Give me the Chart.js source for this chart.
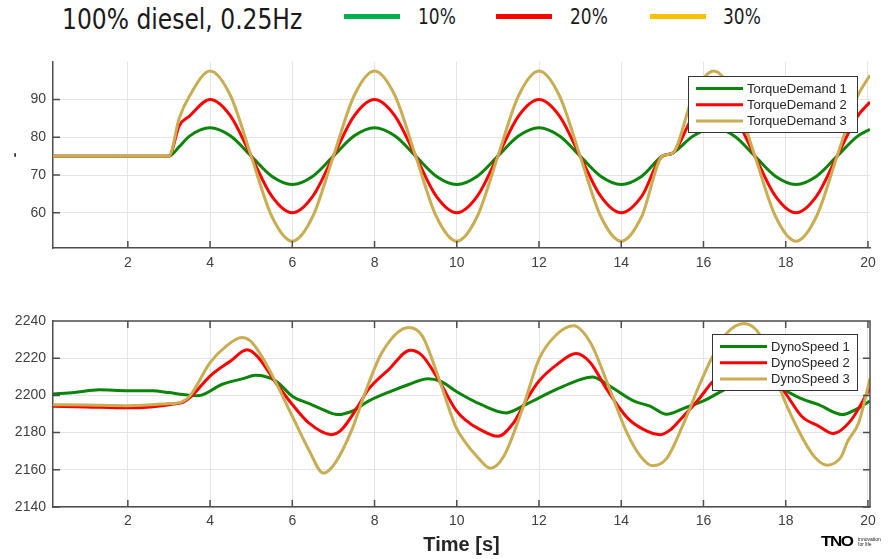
<!DOCTYPE html>
<html>
<head>
<meta charset="utf-8">
<script src="https://cdn.jsdelivr.net/npm/chart.js@4.4.1/dist/chart.umd.min.js"></script>
<style>
  html, body { margin: 0; padding: 0; background: #fff; }
  #page { position: relative; width: 895px; height: 559px; overflow: hidden; }
  canvas { position: absolute; left: 0; }
  #topWrap { position: absolute; left: 0; top: 40px; width: 895px; height: 240px; }
  #botWrap { position: absolute; left: 0; top: 300px; width: 895px; height: 259px; }
  .head { position: absolute; font-family: "Liberation Sans Narrow", "DejaVu Sans Condensed", "Open Sans", sans-serif; color: #1a1a1a; white-space: nowrap; transform-origin: left center; }
  .swatch { position: absolute; height: 5px; width: 56px; }
  .tno { position: absolute; left: 821px; top: 532px; font-family: "Liberation Sans", Arial, sans-serif; font-weight: 900; font-size: 17px; letter-spacing: -1.5px; color: #000; transform: scaleY(0.85); }
  .tagline { position: absolute; left: 858px; top: 537px; font-family: "Liberation Sans", Arial, sans-serif; font-size: 5px; line-height: 5px; color: #222; }
</style>
</head>
<body>
<div id="page">
  <div class="head" style="left:62px; top:3px; font-size:28px; transform:scaleX(0.93);">100% diesel, 0.25Hz</div>
  <div class="swatch" style="left:344px; top:14px; background:#00b050;"></div>
  <div class="head" style="left:418px; top:5px; font-size:21px; transform:scaleX(0.9);">10%</div>
  <div class="swatch" style="left:496px; top:14px; background:#ff0000;"></div>
  <div class="head" style="left:570px; top:5px; font-size:21px; transform:scaleX(0.9);">20%</div>
  <div class="swatch" style="left:650px; top:14px; background:#ffc000;"></div>
  <div class="head" style="left:723px; top:5px; font-size:21px; transform:scaleX(0.9);">30%</div>

  <div id="topWrap"><canvas id="torqueChart" width="895" height="240"></canvas></div>
  <div id="botWrap"><canvas id="speedChart" width="895" height="259"></canvas></div>

  <div class="tno">TNO</div>
  <div class="tagline">innovation<br>for life</div>
</div>

<script>
// ---- data ----
const timeTicks = [2, 4, 6, 8, 10, 12, 14, 16, 18, 20];
const torqueTicks = [60, 70, 80, 90];
const speedTicks = [2140, 2160, 2180, 2200, 2220, 2240];

const torqueTime = [0.18, 1, 2, 3, 3.25, 3.5, 4, 4.5, 5, 5.5, 6, 6.5, 7, 7.5, 8, 8.5, 9, 9.5, 10, 10.5,
  11, 11.5, 12, 12.5, 13, 13.5, 14, 14.5, 15, 15.25, 15.75, 16.25, 16.75, 17.25, 17.75, 18.25, 18.75, 19.25, 19.75, 20.05];
const torqueDemand1 = [75, 75, 75, 75, 77.5, 80.3, 82.5, 80.3, 75, 69.7, 67.5, 69.7, 75, 80.3, 82.5, 80.3, 75, 69.7, 67.5, 69.7,
  75, 80.3, 82.5, 80.3, 75, 69.7, 67.5, 69.7, 75, 75.8, 80.3, 82.5, 80.3, 75, 69.7, 67.5, 69.7, 75, 80.3, 82.1];
const torqueDemand2 = [75, 75, 75, 75, 83, 85.6, 90, 85.6, 75, 64.4, 60, 64.4, 75, 85.6, 90, 85.6, 75, 64.4, 60, 64.4,
  75, 85.6, 90, 85.6, 75, 64.4, 60, 64.4, 75, 75.8, 85.6, 90, 85.6, 75, 64.4, 60, 64.4, 75, 85.6, 89.3];
const torqueDemand3 = [75, 75, 75, 75, 85, 90.9, 97.5, 90.9, 75, 59.1, 52.5, 59.1, 75, 90.9, 97.5, 90.9, 75, 59.1, 52.5, 59.1,
  75, 90.9, 97.5, 90.9, 75, 59.1, 52.5, 59.1, 75, 75.8, 90.9, 97.5, 90.9, 75, 59.1, 52.5, 59.1, 75, 90.9, 96.4];

const dyno1Time = [0.18, 0.7, 1.3, 2.0, 2.6, 3.0, 3.35, 3.7, 4.3, 4.8, 5.1, 5.6, 6.0, 6.4, 6.7, 7.1, 7.5, 7.85, 8.35, 8.85,
  9.3, 9.6, 10.0, 10.6, 11.2, 11.6, 12.0, 12.5, 12.9, 13.3, 13.65, 14.3, 14.7, 15.1, 15.55, 16.0, 16.5, 17.0, 17.35, 18.0,
  18.35, 18.8, 19.37, 19.7, 20.05];
const dynoSpeed1 = [2200.8, 2201.5, 2203, 2202.5, 2202.5, 2201.5, 2200.5, 2199.8, 2206, 2209, 2210.8, 2207.7, 2199.6, 2195.7, 2192.8, 2189.7, 2192, 2196.9, 2201.8, 2206,
  2209, 2207.7, 2202, 2195, 2190.6, 2194.2, 2198.7, 2204, 2207.7, 2209.9, 2206, 2197, 2194.2, 2189.8, 2193.3, 2197, 2203, 2208, 2209.5, 2202.5,
  2198.5, 2195, 2189.7, 2192.4, 2197];

const dyno2Time = [0.18, 1.0, 2.0, 2.55, 3.2, 3.35, 3.55, 4.0, 4.5, 4.9, 5.15, 5.6, 6.0, 6.4, 6.95, 7.2, 7.6, 7.85, 8.35, 8.87,
  9.15, 9.55, 9.97, 10.2, 10.57, 11.0, 11.38, 11.7, 12.0, 12.45, 12.9, 13.25, 13.65, 14.15, 14.55, 14.95, 15.2, 15.4, 15.88, 16.2,
  16.6, 17.0, 17.3, 17.65, 18.0, 18.4, 18.8, 19.15, 19.6, 20.05];
const dynoSpeed2 = [2194.2, 2193.8, 2193.3, 2193.8, 2195.7, 2196.4, 2199.6, 2210.4, 2218.5, 2224.5, 2221, 2206.8, 2195.1, 2185.2, 2178.9, 2181.6, 2194.2, 2203.2, 2214, 2224.3,
  2221.6, 2208.7, 2192.4, 2187, 2181.6, 2178, 2185.2, 2197.8, 2207.7, 2216.8, 2222.5, 2217.6, 2203.2, 2187.9, 2181.6, 2178.9, 2181.6, 2186.1, 2197.8, 2206.8,
  2215, 2221, 2219, 2211, 2201, 2188.5, 2183.5, 2179.5, 2187, 2204];

const dyno3Time = [0.18, 1.0, 2.0, 2.95, 3.3, 3.52, 4.0, 4.4, 4.77, 4.98, 5.2, 5.5, 6.0, 6.4, 6.76, 7.04, 7.45, 7.77, 8.18, 8.83,
  9.16, 9.57, 9.97, 10.2, 10.49, 10.81, 11.14, 11.62, 12.0, 12.44, 12.84, 13.25, 13.66, 14.14, 14.47, 14.76, 15.1, 15.5, 15.9, 16.2,
  16.55, 16.98, 17.3, 17.6, 17.87, 18.35, 18.7, 19.0, 19.35, 19.5, 19.77, 19.9, 20.05];
const dynoSpeed3 = [2195, 2194.8, 2194.5, 2195.5, 2196.4, 2200, 2217.6, 2226.6, 2231.1, 2229.3, 2223, 2211.3, 2188.8, 2170.8, 2158.2, 2163.6, 2181.6, 2201.4, 2223, 2236.5,
  2232, 2208.7, 2183.4, 2175, 2167.2, 2160.9, 2167.2, 2194.2, 2219.5, 2233, 2237.5, 2228.4, 2206.8, 2179.8, 2167.2, 2162.2, 2166, 2184, 2205.5, 2220,
  2233, 2238.7, 2234.8, 2222, 2203, 2179.5, 2167, 2162.5, 2167, 2175, 2185, 2195.3, 2209];

// ---- styling ----
const GREEN = '#0a850a';
const RED = '#ff0000';
const GOLD = '#c9ad52';
const AXIS = '#4d4d4d';
const GRID = '#e4e4e4';
const FONT = '"Liberation Sans", Arial, Helvetica, sans-serif';

function pts(xs, ys) {
  return xs.map((x, i) => ({ x: x, y: ys[i] }));
}

function line(label, xs, ys, color, order) {
  return {
    label: label,
    data: pts(xs, ys),
    borderColor: color,
    backgroundColor: color,
    borderWidth: 3,
    pointRadius: 0,
    cubicInterpolationMode: 'monotone',
    order: order
  };
}

// legend box drawn inside the plot area, over the lines
const boxLegend = {
  id: 'boxLegend',
  afterDatasetsDraw(chart, args, opts) {
    const ctx = chart.ctx;
    const a = chart.chartArea;
    const left = a.right - opts.right - opts.width;
    const top = a.top + opts.top;
    ctx.save();
    ctx.fillStyle = '#fff';
    ctx.fillRect(left, top, opts.width, opts.height);
    ctx.strokeStyle = '#333';
    ctx.lineWidth = 1;
    ctx.strokeRect(left + 0.5, top + 0.5, opts.width, opts.height);
    ctx.font = '13px ' + FONT;
    ctx.textBaseline = 'middle';
    chart.data.datasets.forEach((ds, i) => {
      const cy = top + 12.5 + i * 16.3;
      ctx.strokeStyle = ds.borderColor;
      ctx.lineWidth = 3;
      ctx.beginPath();
      ctx.moveTo(left + 8, cy);
      ctx.lineTo(left + 55, cy);
      ctx.stroke();
      ctx.fillStyle = '#262626';
      ctx.fillText(ds.label, left + 59, cy + 0.5);
    });
    ctx.restore();
  }
};

// MATLAB style inward tick marks (and full box when asked)
const frameTicks = {
  id: 'frameTicks',
  afterDraw(chart, args, opts) {
    const ctx = chart.ctx;
    const a = chart.chartArea;
    const x = chart.scales.x;
    const y = chart.scales.y;
    ctx.save();
    ctx.strokeStyle = AXIS;
    ctx.lineWidth = 1.5;
    ctx.beginPath();
    if (opts.box) {
      ctx.moveTo(a.left, a.top);
      ctx.lineTo(a.right, a.top);
      ctx.lineTo(a.right, a.bottom);
    }
    x.ticks.forEach(t => {
      const px = x.getPixelForValue(t.value);
      ctx.moveTo(px, a.bottom);
      ctx.lineTo(px, a.bottom - 7);
      if (opts.box) {
        ctx.moveTo(px, a.top);
        ctx.lineTo(px, a.top + 7);
      }
    });
    y.ticks.forEach(t => {
      const py = y.getPixelForValue(t.value);
      ctx.moveTo(a.left, py);
      ctx.lineTo(a.left + 7, py);
      if (opts.box) {
        ctx.moveTo(a.right, py);
        ctx.lineTo(a.right - 7, py);
      }
    });
    ctx.stroke();
    ctx.restore();
  }
};

function xScale(axisHeight, labelPad, title) {
  return {
    type: 'linear',
    min: 0.18,
    max: 20.05,
    afterBuildTicks: s => { s.ticks = timeTicks.map(v => ({ value: v })); },
    afterFit: s => { s.height = axisHeight; },
    grid: { color: GRID, lineWidth: 1, drawTicks: false },
    border: { color: AXIS, width: 1.5 },
    ticks: {
      color: '#404040', font: { family: FONT, size: 14 }, padding: labelPad,
      maxRotation: 0, autoSkip: false, callback: v => String(v)
    },
    title: title
  };
}

function yScale(min, max, tickList, yTitle) {
  return {
    min: min,
    max: max,
    afterBuildTicks: s => { s.ticks = tickList.map(v => ({ value: v })); },
    afterFit: s => { s.width = 53; },
    grid: { color: GRID, lineWidth: 1, drawTicks: false },
    border: { color: AXIS, width: 1.5 },
    ticks: { color: '#404040', font: { family: FONT, size: 14 }, padding: 7, callback: v => String(v) },
    title: yTitle
  };
}

Chart.defaults.animation = false;

new Chart(document.getElementById('torqueChart'), {
  type: 'line',
  data: {
    datasets: [
      line('TorqueDemand 1', torqueTime, torqueDemand1, GREEN, 3),
      line('TorqueDemand 2', torqueTime, torqueDemand2, RED, 2),
      line('TorqueDemand 3', torqueTime, torqueDemand3, GOLD, 1)
    ]
  },
  options: {
    responsive: false,
    layout: { padding: { top: 22, right: 25, left: 0, bottom: 0 } },
    scales: {
      x: xScale(32, 7, { display: false }),
      y: yScale(50.7, 99.9, torqueTicks, {
        display: true, text: '-', color: '#333',
        font: { family: FONT, size: 14, weight: 'bold' }, padding: { top: 7, bottom: 0 }
      })
    },
    plugins: {
      legend: { display: false },
      tooltip: { enabled: false },
      boxLegend: { right: 13, top: 14, width: 169, height: 56 },
      frameTicks: { box: false }
    }
  },
  plugins: [boxLegend, frameTicks]
});

new Chart(document.getElementById('speedChart'), {
  type: 'line',
  data: {
    datasets: [
      line('DynoSpeed 1', dyno1Time, dynoSpeed1, GREEN, 3),
      line('DynoSpeed 2', dyno2Time, dynoSpeed2, RED, 2),
      line('DynoSpeed 3', dyno3Time, dynoSpeed3, GOLD, 1)
    ]
  },
  options: {
    responsive: false,
    layout: { padding: { top: 21, right: 25, left: 0, bottom: 0 } },
    scales: {
      x: xScale(52, 6, {
        display: true, text: 'Time [s]', color: '#262626',
        font: { family: FONT, size: 20, weight: 'bold' }, padding: { top: 0, bottom: 2 }
      }),
      y: yScale(2140, 2240, speedTicks, { display: false })
    },
    plugins: {
      legend: { display: false },
      tooltip: { enabled: false },
      boxLegend: { right: 13, top: 13, width: 145, height: 56 },
      frameTicks: { box: true }
    }
  },
  plugins: [boxLegend, frameTicks]
});
</script>
</body>
</html>
